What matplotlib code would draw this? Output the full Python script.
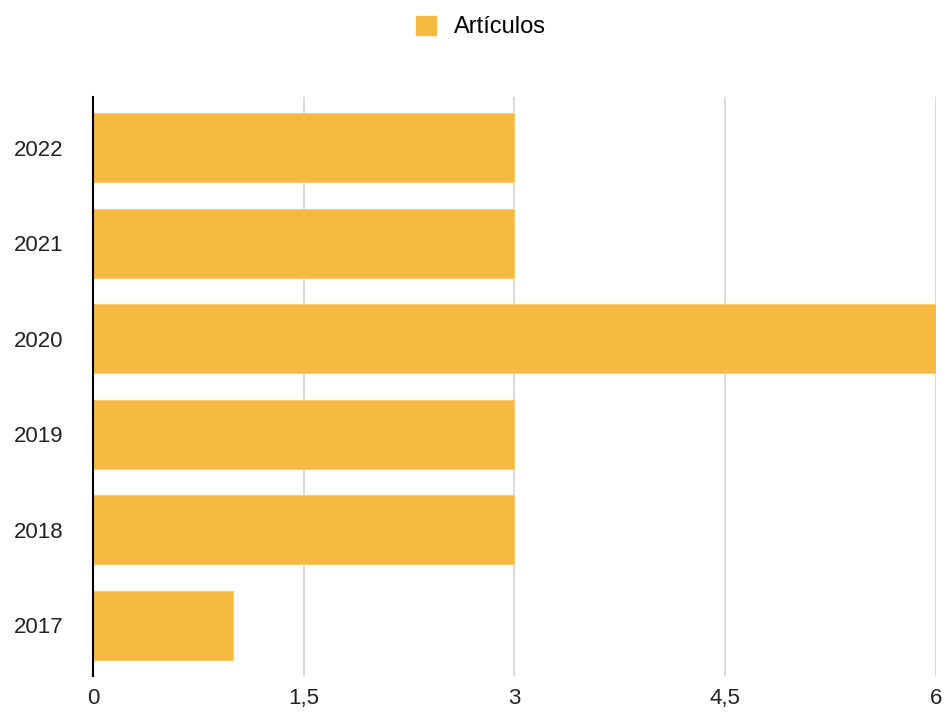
import matplotlib.pyplot as plt
from matplotlib.patches import Patch

# data
years = ['2017', '2018', '2019', '2020', '2021', '2022']
articulos = [1, 3, 3, 6, 3, 3]
xticks = [0, 1.5, 3, 4.5, 6]
xlabels = ['0', '1,5', '3', '4,5', '6']

plt.rcParams['font.family'] = ['Liberation Sans', 'DejaVu Sans']

fig = plt.figure(figsize=(9.46, 7.13), dpi=100)
ax = fig.add_axes([0.0983, 0.052, 0.8911, 0.812])

ax.barh(years, articulos, height=0.72, color='#F6B942', edgecolor='#F9CB6E', linewidth=0.8, zorder=2)

ax.set_xlim(0, 6)
ax.set_ylim(-0.53, 5.53)
ax.set_xticks(xticks, labels=xlabels)
ax.grid(axis='x', color='#D4D4D4', linewidth=1.2, zorder=0)
ax.tick_params(length=0, labelsize=16, colors='#222222')
ax.tick_params(axis='x', pad=9)
ax.tick_params(axis='y', pad=21)

for s in ['top', 'right', 'bottom']:
    ax.spines[s].set_visible(False)
ax.spines['left'].set_color('black')
ax.spines['left'].set_linewidth(1.5)
ax.spines['left'].set_zorder(3)

fig.legend(handles=[Patch(color='#F6B942', label='Artículos')], loc='center',
           bbox_to_anchor=(0.508, 0.962), frameon=False, fontsize=17,
           handlelength=0.85, handleheight=0.85, handletextpad=0.75)

fig.savefig('out.png', dpi=100)
